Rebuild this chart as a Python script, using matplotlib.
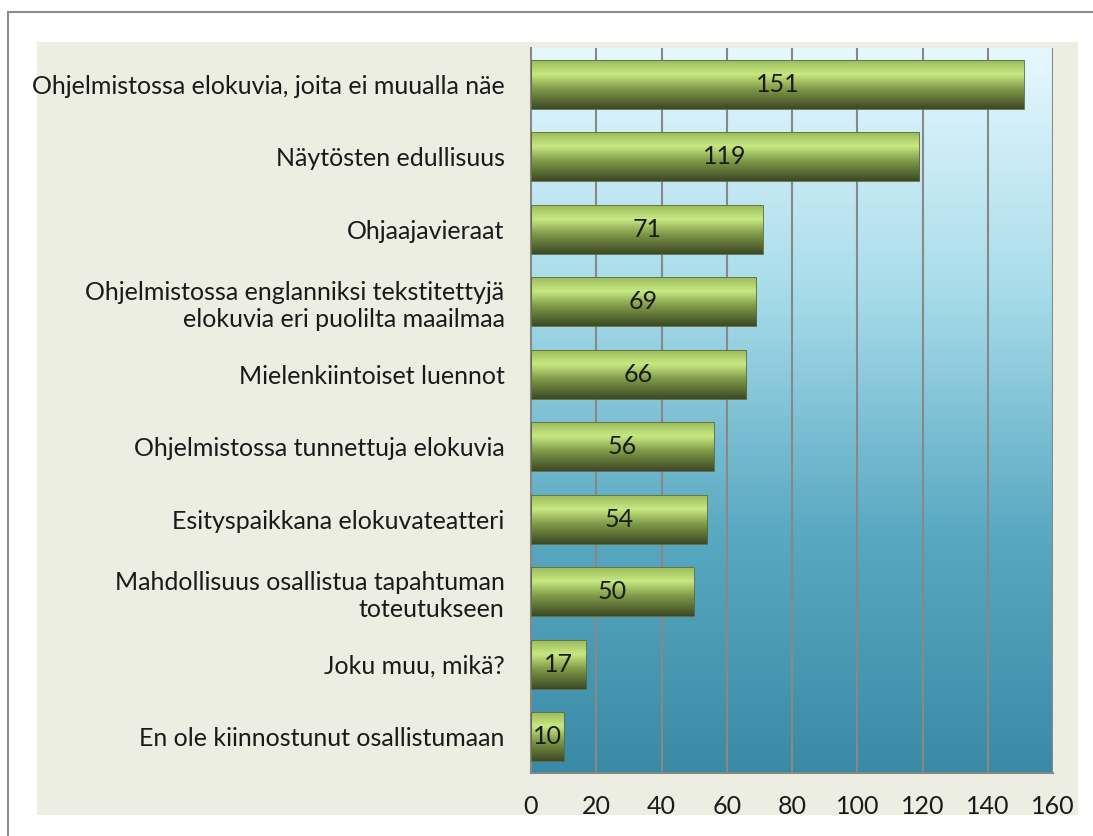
import numpy as np
import matplotlib
matplotlib.use('Agg')
import matplotlib.pyplot as plt
from matplotlib.colors import LinearSegmentedColormap
from matplotlib.patches import Rectangle

#%% data
labels = [
    "Ohjelmistossa elokuvia, joita ei muualla näe",
    "Näytösten edullisuus",
    "Ohjaajavieraat",
    "Ohjelmistossa englanniksi tekstitettyjä\nelokuvia eri puolilta maailmaa",
    "Mielenkiintoiset luennot",
    "Ohjelmistossa tunnettuja elokuvia",
    "Esityspaikkana elokuvateatteri",
    "Mahdollisuus osallistua tapahtuman\ntoteutukseen",
    "Joku muu, mikä?",
    "En ole kiinnostunut osallistumaan",
]
values = [151, 119, 71, 69, 66, 56, 54, 50, 17, 10]
xticks = [0, 20, 40, 60, 80, 100, 120, 140, 160]

plt.rcParams['font.family'] = ['Lato', 'DejaVu Sans']

W, H = 1093, 836
fig = plt.figure(figsize=(W / 100, H / 100), dpi=100)
fig.patch.set_facecolor('white')

# outer frame and beige chart area (behind the axes)
fig.add_artist(Rectangle((8 / W, -0.1), 1.2, 1 - 12 / H + 0.1, transform=fig.transFigure,
                         facecolor='white', edgecolor='#8c8c8c', lw=1.5, zorder=-10))
fig.add_artist(Rectangle((37 / W, 1 - 815 / H), (1078 - 37) / W, (815 - 42) / H,
                         transform=fig.transFigure, facecolor='#ebeee0', edgecolor='none', zorder=-9))

ax = fig.add_axes([531 / W, 1 - 773 / H, (1053 - 531) / W, (773 - 48) / H])
ax.patch.set_alpha(0)
n = len(values)

# background gradient: light cyan at top, teal at bottom
bg = LinearSegmentedColormap.from_list('bg', ['#e6f8fe', '#a8dcea', '#5aa9c2', '#3a8aa6'])
ax.imshow(np.linspace(0, 1, 256).reshape(-1, 1), aspect='auto', cmap=bg,
          extent=[0, 160, n - 0.5, -0.5], zorder=0)

for x in xticks[1:]:
    ax.axvline(x, color='#888888', lw=1.5, zorder=1)

# bars with a cylinder-like green gradient
barcm = LinearSegmentedColormap.from_list('bar', [(0, '#98b858'), (0.3, '#c8e882'),
                                                  (0.6, '#7f9a48'), (1, '#3c4824')])
grad = np.linspace(0, 1, 128).reshape(-1, 1)
bh = 0.68
for i, v in enumerate(values):
    rect = Rectangle((0, i - bh / 2), v, bh, facecolor='none', edgecolor='#5a6a3a', lw=0.6, zorder=3)
    ax.add_patch(rect)
    im = ax.imshow(grad, aspect='auto', cmap=barcm, extent=[0, v, i + bh / 2, i - bh / 2], zorder=2)
    im.set_clip_path(rect)
    ax.text(v / 2, i, str(v), ha='center', va='center', fontsize=18, color='#1a1a1a', zorder=4)

ax.set_xlim(0, 160)
ax.set_ylim(n - 0.5, -0.5)
ax.set_yticks(range(n))
ax.set_yticklabels(labels, fontsize=18, color='#1a1a1a', ha='right', linespacing=1.2)
ax.set_xticks(xticks)
ax.set_xticklabels([str(x) for x in xticks], fontsize=18, color='#1a1a1a')
ax.tick_params(length=0)
ax.tick_params(axis='x', pad=16)
ax.tick_params(axis='y', pad=19)
for s in ['top', 'right']:
    ax.spines[s].set_visible(False)
ax.spines['left'].set_color('#888888')
ax.spines['bottom'].set_color('#888888')
ax.spines['left'].set_linewidth(1.5)
ax.spines['bottom'].set_linewidth(1.5)

fig.savefig('out.png', dpi=100)
